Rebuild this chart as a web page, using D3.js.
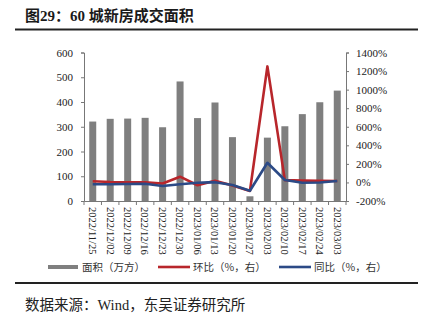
<!DOCTYPE html>
<html><head><meta charset="utf-8">
<script src="https://cdn.jsdelivr.net/npm/d3@7"></script>
<style>body{margin:0;background:#fff}svg{display:block}</style>
</head><body>
<svg id="c" width="425" height="323"></svg>
<script>
const categories = ["2022/11/25","2022/12/02","2022/12/09","2022/12/16","2022/12/23","2022/12/30","2023/01/06","2023/01/13","2023/01/20","2023/01/27","2023/02/03","2023/02/10","2023/02/17","2023/02/24","2023/03/03"];
const area = [321, 332, 333, 336, 298, 483, 335, 398, 258, 19, 256, 302, 351, 399, 446];
const mom = [12, 4, 1, 1, -11, 62, -30, 18, -32, -92, 1250, 25, 20, 18, 15];
const yoy = [-20, -20, -17, -15, -38, -20, -3, 3, -28, -89, 212, 26, -3, 0, 15];
const leftTicks = [0,100,200,300,400,500,600];
const rightTicks = [-200,0,200,400,600,800,1000,1200,1400];
const legendLabels = ["面积（万方）","环比（%，右）","同比（%，右）"];

const svg = d3.select("#c");
const serif = "'Liberation Serif','DejaVu Serif',serif";
const cjk = "'Noto Sans CJK SC',sans-serif";

svg.append("text").attr("x",25).attr("y",20.5).attr("font-family",serif+","+cjk)
  .attr("font-weight","bold").attr("font-size",15).attr("fill","#1a1a1a")
  .text("图29：60 城新房成交面积");
svg.append("line").attr("x1",15).attr("x2",418).attr("y1",29.5).attr("y2",29.5).attr("stroke","#222").attr("stroke-width",2);
svg.append("line").attr("x1",15).attr("x2",418).attr("y1",283).attr("y2",283).attr("stroke","#222").attr("stroke-width",2);
svg.append("text").attr("x",25).attr("y",310).attr("font-family",serif+","+cjk)
  .attr("font-size",14.5).attr("fill","#222").text("数据来源：Wind，东吴证券研究所");

const x0=84, x1=346, yTop=52.5, yBot=201;
const xc = d3.scaleBand().domain(categories).range([x0,x1]);
const yL = d3.scaleLinear().domain([0,600]).range([yBot,yTop]);
const yR = d3.scaleLinear().domain([-200,1400]).range([yBot,yTop]);

svg.append("g").selectAll("rect").data(area).join("rect")
  .attr("x",(d,i)=>xc(categories[i])+xc.bandwidth()/2-3.5).attr("width",7)
  .attr("y",d=>yL(d)).attr("height",d=>yL(0)-yL(d)).attr("fill","#7f7f7f");

const line = d3.line().x((d,i)=>xc(categories[i])+xc.bandwidth()/2).y(d=>yR(d));
svg.append("path").datum(mom).attr("d",line).attr("fill","none").attr("stroke","#b8262b").attr("stroke-width",2.6).attr("stroke-linejoin","round");
svg.append("path").datum(yoy).attr("d",line).attr("fill","none").attr("stroke","#2c4a86").attr("stroke-width",2.6).attr("stroke-linejoin","round");

const axL = svg.append("g").attr("transform",`translate(${x0},0)`)
  .call(d3.axisLeft(yL).tickValues(leftTicks).tickSize(3).tickPadding(8));
const axR = svg.append("g").attr("transform",`translate(${x1},0)`)
  .call(d3.axisRight(yR).tickValues(rightTicks).tickSize(3).tickPadding(7).tickFormat(d=>d+"%"));
[axL,axR].forEach(a=>{
  a.selectAll("path").attr("stroke","#777");
  a.selectAll("line").attr("stroke","#777");
  a.selectAll("text").attr("font-family",serif).attr("font-size",11).attr("fill","#222");
});

const axB = svg.append("g").attr("transform",`translate(0,${yBot})`)
  .call(d3.axisBottom(xc).tickSize(0).tickPadding(0));
axB.select("path").attr("stroke","#777");
axB.selectAll(".tick text").attr("font-family",serif).attr("font-size",10.5).attr("fill","#222")
  .attr("transform","rotate(90)").attr("text-anchor","start").attr("dy","0.35em").attr("x",6).attr("y",0);
svg.append("g").selectAll("line").data(d3.range(categories.length+1)).join("line")
  .attr("x1",i=>x0+i*xc.step()).attr("x2",i=>x0+i*xc.step())
  .attr("y1",yBot).attr("y2",yBot+4).attr("stroke","#777");

const lg = svg.append("g").attr("font-family",cjk).attr("font-size",10.5).attr("fill","#333");
lg.append("rect").attr("x",48).attr("y",265).attr("width",30).attr("height",4).attr("fill","#7f7f7f");
lg.append("text").attr("x",82).attr("y",271).text(legendLabels[0]);
lg.append("line").attr("x1",158).attr("x2",190).attr("y1",267).attr("y2",267).attr("stroke","#b8262b").attr("stroke-width",2.6);
lg.append("text").attr("x",193).attr("y",271).text(legendLabels[1]);
lg.append("line").attr("x1",279).attr("x2",311).attr("y1",267).attr("y2",267).attr("stroke","#2c4a86").attr("stroke-width",2.6);
lg.append("text").attr("x",314).attr("y",271).text(legendLabels[2]);
</script>
</body></html>
